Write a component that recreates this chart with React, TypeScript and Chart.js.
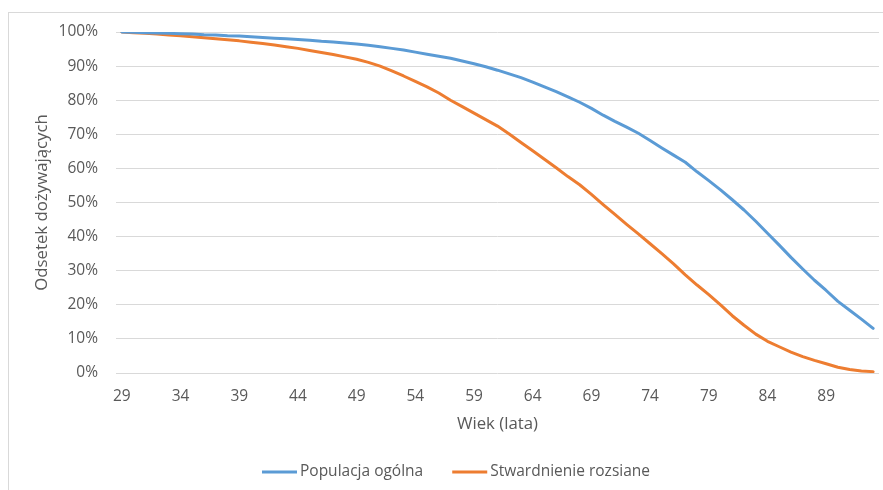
import React, { useEffect, useRef } from 'react';
import { Chart, registerables } from 'chart.js';

Chart.register(...registerables);

// Age in years (category axis)
const AGES = [
  29, 30, 31, 32, 33, 34, 35, 36, 37, 38, 39, 40, 41, 42, 43, 44, 45, 46, 47, 48,
  49, 50, 51, 52, 53, 54, 55, 56, 57, 58, 59, 60, 61, 62, 63, 64, 65, 66, 67, 68,
  69, 70, 71, 72, 73, 74, 75, 76, 77, 78, 79, 80, 81, 82, 83, 84, 85, 86, 87, 88,
  89, 90, 91, 92, 93,
];

// Percentage surviving – general population
const GENERAL_POPULATION = [
  100, 99.9, 99.8, 99.7, 99.6, 99.5, 99.4, 99.2, 99.1, 98.9, 98.8, 98.6, 98.4, 98.2, 98.0, 97.8, 97.6, 97.3, 97.1, 96.8,
  96.5, 96.1, 95.7, 95.2, 94.7, 94.1, 93.5, 92.9, 92.3, 91.5, 90.7, 89.8, 88.8, 87.7, 86.6, 85.3, 83.9, 82.5, 81.0, 79.4,
  77.6, 75.6, 73.8, 72.1, 70.3, 68.2, 66.0, 63.9, 61.8, 59.0, 56.4, 53.7, 50.8, 47.8, 44.5, 41.0, 37.5, 33.9, 30.5, 27.2,
  24.2, 21.0, 18.4, 15.8, 13.1,
];

// Percentage surviving – multiple sclerosis
const MULTIPLE_SCLEROSIS = [
  100, 99.8, 99.6, 99.4, 99.1, 98.9, 98.6, 98.3, 98.0, 97.7, 97.4, 97.0, 96.6, 96.2, 95.7, 95.2, 94.6, 94.0, 93.4, 92.7,
  92.0, 91.1, 90.0, 88.6, 87.1, 85.5, 83.9, 82.1, 80.0, 78.1, 76.2, 74.3, 72.4, 70.1, 67.6, 65.2, 62.7, 60.2, 57.6, 55.2,
  52.4, 49.4, 46.5, 43.6, 40.8, 37.9, 35.0, 32.0, 28.8, 25.8, 23.0, 20.0, 16.8, 14.0, 11.4, 9.3, 7.7, 6.1, 4.8, 3.7,
  2.7, 1.7, 1.0, 0.6, 0.4,
];

const SERIES_LABELS = ['Populacja ogólna', 'Stwardnienie rozsiane'];
const X_TITLE = 'Wiek (lata)';
const Y_TITLE = 'Odsetek dożywających';
const Y_MIN = 0;
const Y_MAX = 100;
const Y_STEP = 10;
const X_LABEL_EVERY = 5;

const BLUE = '#5b9bd5';
const ORANGE = '#ed7d31';
const TEXT = '#595959';
const GRID = '#d9d9d9';
const FONT_FAMILY = '"Open Sans", "Noto Sans", sans-serif';
const FONT_SIZE = 15.5;
const TITLE_SIZE = 16.8;

export default function App() {
  const ref = useRef<HTMLCanvasElement | null>(null);

  useEffect(() => {
    if (!ref.current) return;
    const font = { family: FONT_FAMILY, size: FONT_SIZE };
    const titleFont = { family: FONT_FAMILY, size: TITLE_SIZE };

    const legendPlugin = {
      id: 'excelLegend',
      afterDraw(chart: any) {
        const ctx = chart.ctx as CanvasRenderingContext2D;
        ctx.save();
        ctx.font = `${FONT_SIZE}px ${FONT_FAMILY}`;
        const lineW = 35;
        const gapText = 3;
        const gapItem = 29;
        const items = chart.data.datasets.map((ds: any) => ({
          label: ds.label as string,
          color: ds.borderColor as string,
          w: ctx.measureText(ds.label).width,
        }));
        const total =
          items.reduce((s: number, it: any) => s + lineW + gapText + it.w, 0) + gapItem * (items.length - 1);
        let x = 456 - total / 2;
        const y = 472;
        ctx.textBaseline = 'middle';
        ctx.textAlign = 'left';
        items.forEach((it: any) => {
          ctx.fillStyle = it.color;
          ctx.fillRect(x, y - 1.5, lineW, 3);
          x += lineW + gapText;
          ctx.fillStyle = TEXT;
          ctx.fillText(it.label, x, y);
          x += it.w + gapItem;
        });
        ctx.restore();
      },
    };

    const chart = new Chart(ref.current, {
      type: 'line',
      data: {
        labels: AGES.map(String),
        datasets: [
          {
            label: SERIES_LABELS[0],
            data: GENERAL_POPULATION,
            borderColor: BLUE,
            backgroundColor: BLUE,
            borderWidth: 3,
            pointRadius: 0,
            tension: 0,
            borderJoinStyle: 'round',
            borderCapStyle: 'round',
          },
          {
            label: SERIES_LABELS[1],
            data: MULTIPLE_SCLEROSIS,
            borderColor: ORANGE,
            backgroundColor: ORANGE,
            borderWidth: 3,
            pointRadius: 0,
            tension: 0,
            borderJoinStyle: 'round',
            borderCapStyle: 'round',
          },
        ],
      },
      options: {
        responsive: true,
        maintainAspectRatio: false,
        animation: false,
        layout: { padding: { top: 32, right: 4, bottom: 35, left: 0 } },
        plugins: {
          legend: { display: false },
          tooltip: { enabled: false },
        },
        scales: {
          x: {
            type: 'category',
            offset: true,
            grid: { display: false, drawTicks: true, tickLength: 10.7 },
            border: { display: false },
            ticks: {
              autoSkip: false,
              maxRotation: 0,
              minRotation: 0,
              padding: 4,
              color: TEXT,
              font,
              callback: function (this: any, v: any, i: number) {
                return i % X_LABEL_EVERY === 0 ? this.getLabelForValue(v) : '';
              },
            },
            title: { display: true, text: X_TITLE, color: TEXT, font: titleFont, padding: { top: 0, bottom: 20.5 } },
            afterFit: (s: any) => {
              s.height = 82;
            },
          },
          y: {
            min: Y_MIN,
            max: Y_MAX,
            grid: { color: GRID, lineWidth: 1, drawTicks: false, tickLength: 0 },
            border: { display: false },
            ticks: {
              stepSize: Y_STEP,
              padding: 18,
              color: TEXT,
              font,
              callback: (v: any) => `${v}%`,
            },
            title: { display: true, text: Y_TITLE, color: TEXT, font: titleFont, padding: { top: 32, bottom: 0 } },
            afterFit: (s: any) => {
              s.width = 116;
            },
          },
        },
      },
      plugins: [legendPlugin],
    });

    return () => chart.destroy();
  }, []);

  return (
    <>
      <div
        style={{
          position: 'fixed',
          left: 8,
          top: 12,
          width: 1200,
          height: 1200,
          border: `1px solid ${GRID}`,
          boxSizing: 'border-box',
        }}
      />
      <div style={{ position: 'fixed', left: 0, top: 0, width: 883, height: 490 }}>
        <canvas ref={ref} />
      </div>
    </>
  );
}
